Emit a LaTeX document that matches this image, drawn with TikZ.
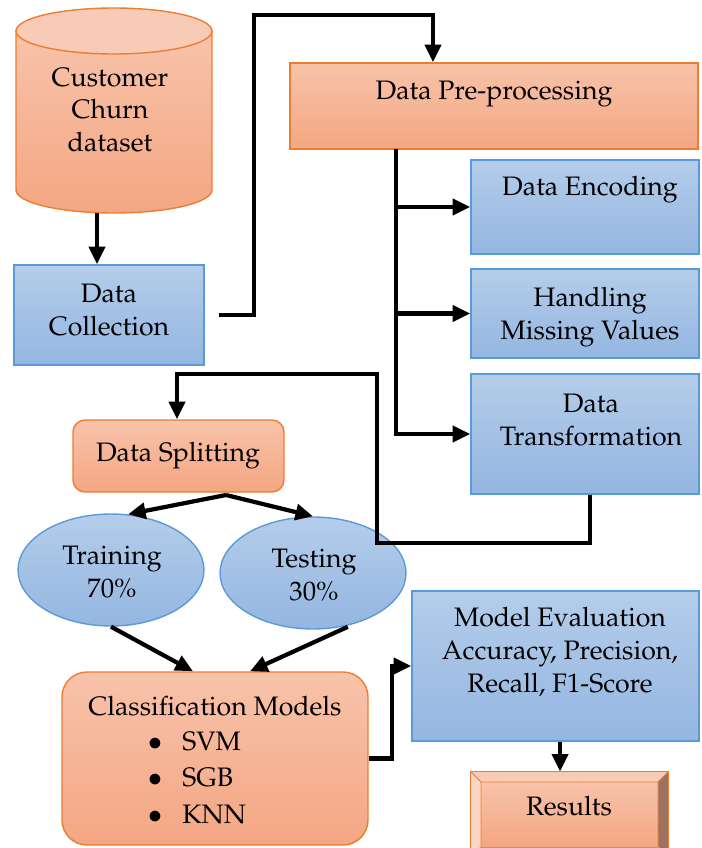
\documentclass[tikz,border=0pt]{standalone}
\usepackage[T1]{fontenc}
\usepackage{mathpazo}
\usetikzlibrary{arrows.meta}
\usetikzlibrary{fit}
\usetikzlibrary{shapes.geometric}

\definecolor{orline}{HTML}{ED7D31}
\definecolor{ortop}{HTML}{F8C3AA}
\definecolor{orbot}{HTML}{F4A683}
\definecolor{orlid}{HTML}{F8CBB6}
\definecolor{blline}{HTML}{5B9BD5}
\definecolor{bltop}{HTML}{B4CDEA}
\definecolor{blbot}{HTML}{94B6E1}

\tikzset{
  obox/.style={draw=orline, line width=0.8pt, top color=ortop, bottom color=orbot, inner sep=0pt},
  bbox/.style={draw=blline, line width=0.8pt, top color=bltop, bottom color=blbot, inner sep=0pt},
  lbl/.style={align=center, inner sep=0pt, font=\fontsize{15.2}{18.7}\selectfont},
  conn/.style={line width=2.4pt, -{Triangle[length=10pt,width=9pt]}},
}

\begin{document}
\begin{tikzpicture}[x=0.02cm,y=0.02cm]
\useasboundingbox (0,0) rectangle (702,-848);
% dataset cylinder
\node[fit={(16,-8) (212,-213)}, inner sep=0pt] (db) {};
\shadedraw[top color=ortop, bottom color=orbot, draw=orline, line width=0.8pt]
  (16,-31) -- (16,-190) arc[start angle=180, end angle=360, x radius=1.96cm, y radius=0.46cm] -- (212,-31) -- cycle;
\filldraw[fill=orlid, draw=orline, line width=0.8pt] (114,-31) ellipse [x radius=1.96cm, y radius=0.46cm];
\node[lbl] (dbT) at (110,-110) {Customer\\Churn\\dataset};
% boxes
\node[bbox, fit={(14,-265) (204,-365)}] (dc) {};
\node[obox, fit={(290,-63) (698,-149)}] (pre) {};
\node[bbox, fit={(471,-160) (699,-254)}] (enc) {};
\node[bbox, fit={(471,-269) (699,-358)}] (hmv) {};
\node[bbox, fit={(471,-374) (699,-494)}] (xf) {};
\node[obox, rounded corners=0.24cm, fit={(73,-420) (284,-492)}] (split) {};
\node[bbox, ellipse, minimum width=3.72cm, minimum height=2.24cm] (train) at (111,-570) {};
\node[bbox, ellipse, minimum width=3.72cm, minimum height=2.24cm] (test) at (313,-573) {};
\node[obox, rounded corners=0.5cm, fit={(62,-672) (368,-845)}] (cm) {};
\node[bbox, fit={(412,-591) (699,-741)}] (me) {};
% results, bevelled
\node[fit={(471,-772) (668,-856)}, inner sep=0pt] (res) {};
\fill[color=orlid] (471,-772) -- (668,-772) -- (658,-782) -- (481,-782) -- cycle;
\fill[color={rgb,255:red,251;green,214;blue,196}] (471,-772) -- (481,-782) -- (481,-846) -- (471,-856) -- cycle;
\fill[color={rgb,255:red,158;green,114;blue,98}] (668,-772) -- (668,-856) -- (658,-846) -- (658,-782) -- cycle;
\fill[color={rgb,255:red,192;green,145;blue,123}] (471,-856) -- (481,-846) -- (658,-846) -- (668,-856) -- cycle;
\shade[top color=ortop, bottom color=orbot] (481,-782) rectangle (658,-846);
\draw[orline, line width=0.8pt] (res.north west) rectangle (res.south east);
\draw[orline, line width=0.5pt] (471,-772) -- (481,-782) -- (658,-782) -- (668,-772)
  (481,-782) -- (481,-846) (658,-782) -- (658,-846);
% texts
\node[lbl] (dcT) at (109,-310) {Data\\Collection};
\node[lbl] (preT) at (494,-94) {Data Pre-processing};
\node[lbl] (encT) at (590,-190) {Data Encoding};
\node[lbl] (hmvT) at (590,-317) {Handling\\Missing Values};
\node[lbl] (xfT) at (591,-420) {Data\\Transformation};
\node[lbl] (splitT) at (178,-456) {Data Splitting};
\node[lbl] (trainT) at (112,-572) {Training\\70\%};
\node[lbl] (testT) at (314,-575) {Testing\\30\%};
\node[lbl] (cmT) at (215,-706) {Classification Models};
\foreach \m [count=\i] in {SVM,SGB,KNN} {
  \node[lbl, anchor=base] (dot\i) at (155,{-750-36.5*(\i-1)}) {\smash{$\bullet$}};
  \node[lbl, anchor=base west] (mod\i) at (182,{-750-36.5*(\i-1)}) {\m};
}
\node[lbl] (meT) at (560,-652) {Model Evaluation\\Accuracy, Precision,\\Recall, F1-Score};
\node[lbl] (resT) at (569,-806) {Results};
% connectors
\draw[conn] (db.south -| 97,0) -- (dc.north -| 97,0);
\draw[conn] (dc.east) ++(14,0) -- (254,-315) |- (433,-15) -- (pre.north -| 433,0);
\coordinate (trunk) at (396,-149);
\draw[conn] (trunk) |- (xf.west);
\foreach \b in {enc,hmv}
  \draw[conn] (trunk |- \b.west) -- (\b.west);
\draw[conn] (xf.south -| 590,0) -- (590,-543) -| (377,-374) -| (split.north -| 177,0);
\coordinate (fork) at (226,-495);
\draw[conn] (fork) -- (train.73);
\draw[conn] (fork) -- (test.north);
\draw[conn] (train.south) -- (193,0 |- cm.north);
\draw[conn, shorten <=4pt] (test.-51) -- (250,0 |- cm.north);
\draw[conn] (cm.east) -- ++(23,0) |- (me.west);
\draw[conn] (me.south -| 560,0) -- (res.north -| 560,0);
\end{tikzpicture}
\end{document}
